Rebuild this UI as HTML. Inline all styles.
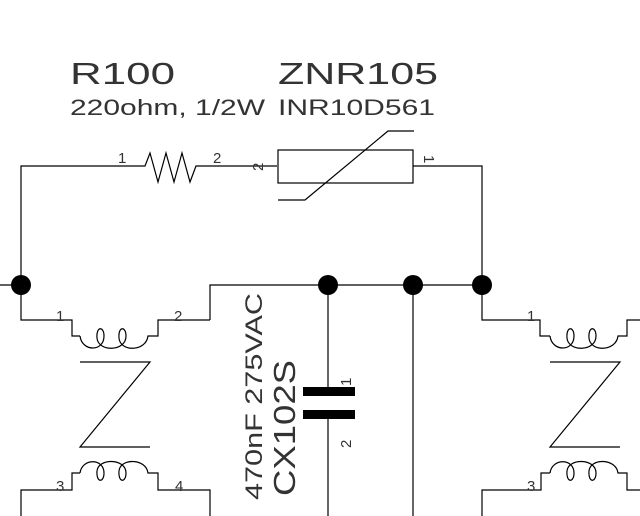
<!DOCTYPE html>
<html><head><style>body{margin:0;background:#fff}svg{display:block}text{font-family:"Liberation Sans",sans-serif;fill:#333}</style></head><body>
<svg width="640" height="516" viewBox="0 0 640 516" xmlns="http://www.w3.org/2000/svg">
<g fill="none" stroke="#000" stroke-width="1.2">
<polyline points="21,285 21,166 145,166 150,153 158,182 166,153 174,182 182,153 190,182 196,166 277,166"/>
<rect x="278" y="150" width="135" height="33"/>
<polyline points="278,200 305,200 388,131 414,131"/>
<polyline points="413,166 482,166 482,285"/>
<line x1="0" y1="285" x2="21" y2="285"/>
<polyline points="210,320 210,285 482,285"/>
<polyline points="21,285 21,320 72,320 72,336 80,336"/>
<path d="M80,336 C82,352 104,352 104,336 C104,326 96,326 97,338 C98,352 126,352 126,336 C126,326 118,326 119,338 C120,352 146,352 148,336 L158,336 L158,320 L210,320"/>
<polyline points="80,362 150,362 80,447 150,447"/>
<path d="M80,473 C82,458 104,458 104,473 C104,483 96,483 97,471 C98,458 126,458 126,473 C126,483 118,483 119,471 C120,458 146,458 148,473 L158,473 L158,490 L210,490 L210,516"/>
<polyline points="80,473 72,473 72,490 21,490 21,516"/>
<line x1="328" y1="285" x2="328" y2="387"/>
<line x1="328" y1="419" x2="328" y2="516"/>
<line x1="413" y1="285" x2="413" y2="516"/>
<polyline points="482,285 482,320 540,320 540,336 550,336"/>
<path d="M550,336 C552,352 574,352 574,336 C574,326 566,326 567,338 C568,352 596,352 596,336 C596,326 588,326 589,338 C590,352 616,352 618,336 L627,336 L627,320 L640,320"/>
<polyline points="550,362 620,362 550,447 620,447"/>
<path d="M550,473 C552,458 574,458 574,473 C574,483 566,483 567,471 C568,458 596,458 596,473 C596,483 588,483 589,471 C590,458 616,458 618,473 L627,473 L627,490 L640,490"/>
<polyline points="550,473 541,473 541,490 482,490 482,516"/>
</g>
<rect x="303" y="387" width="52" height="9" fill="#000"/>
<rect x="303" y="410" width="52" height="9" fill="#000"/>
<g fill="#000"><circle cx="21" cy="285" r="10"/><circle cx="328" cy="285" r="10"/><circle cx="413" cy="285" r="10"/><circle cx="482" cy="285" r="10"/></g>
<text x="70" y="84" font-size="31" textLength="105" lengthAdjust="spacingAndGlyphs">R100</text>
<text x="278" y="84" font-size="31" textLength="160" lengthAdjust="spacingAndGlyphs">ZNR105</text>
<text x="70" y="115" font-size="22" textLength="195" lengthAdjust="spacingAndGlyphs">220ohm, 1/2W</text>
<text x="278" y="115" font-size="22" textLength="157" lengthAdjust="spacingAndGlyphs">INR10D561</text>
<g font-size="15">
<text x="118" y="163">1</text><text x="213" y="163">2</text>
<text x="56" y="321">1</text><text x="174" y="321">2</text>
<text x="56" y="491">3</text><text x="175" y="491">4</text>
<text x="527" y="321">1</text><text x="527" y="491">3</text>
<text transform="translate(263,163) rotate(-90)" x="-8" y="0">2</text>
<text transform="translate(424,160) rotate(90)" x="-5" y="0">1</text>
<text transform="translate(351,381) rotate(-90)" x="-5" y="0">1</text>
<text transform="translate(351,443) rotate(-90)" x="-5" y="0">2</text>
</g>
<text transform="translate(262,500) rotate(-90)" font-size="24" textLength="207" lengthAdjust="spacingAndGlyphs">470nF 275VAC</text>
<text transform="translate(295,496) rotate(-90)" font-size="31" textLength="136" lengthAdjust="spacingAndGlyphs">CX102S</text>
</svg>
</body></html>
